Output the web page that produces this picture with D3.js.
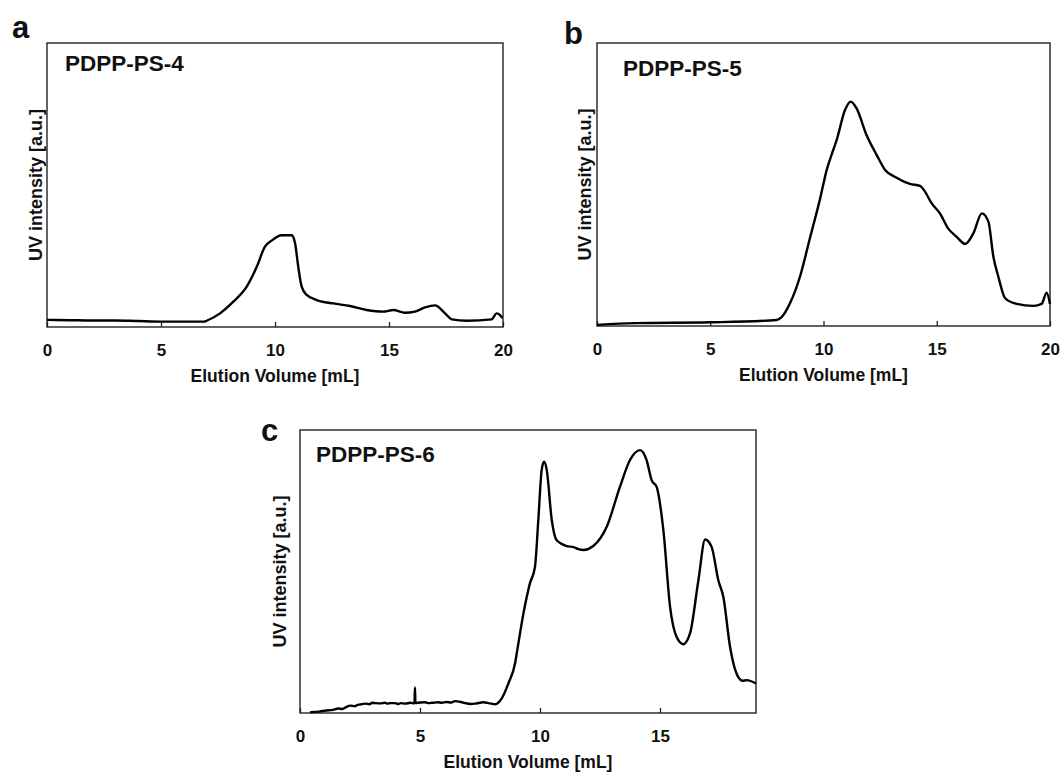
<!DOCTYPE html>
<html>
<head>
<meta charset="utf-8">
<script src="https://cdn.jsdelivr.net/npm/d3@7"></script>
<style>
  body { margin: 0; background: #fff; }
  text { font-family: "Liberation Sans", Arial, sans-serif; font-weight: bold; fill: #111; }
</style>
</head>
<body>
<div id="chart"></div>
<script>
// elution volume [mL] / UV intensity [% of frame height]
const volA = [0, 1, 2, 3, 4, 5, 6, 6.9, 7.0, 7.59, 8.17, 8.76, 9.2, 9.56, 9.85, 10.29, 10.73, 10.88, 11.02, 11.17, 11.39, 11.83, 12.56, 13.29, 14.02, 14.75, 15.19, 15.7, 16.14, 16.58, 17.02, 17.46, 17.75, 18.41, 19.5, 19.72, 19.87, 19.97];
const intA = [2.5, 2.4, 2.3, 2.3, 2.1, 1.9, 1.9, 1.9, 2.2, 4.8, 8.9, 14.2, 21.2, 28.3, 30.4, 32.3, 32.3, 29.5, 21.2, 14.2, 11.3, 9.5, 8.3, 7.4, 6.0, 5.4, 6.0, 5.0, 5.4, 6.9, 7.6, 4.8, 2.7, 2.2, 2.7, 4.8, 4.2, 3.1];

const volB = [0, 1.68, 5, 7.93, 8.15, 8.52, 8.96, 9.4, 9.85, 10.14, 10.4, 10.58, 10.95, 11.2, 11.46, 11.9, 12.35, 12.72, 13.23, 13.82, 14.26, 14.48, 14.77, 15.14, 15.5, 15.87, 16.25, 16.62, 16.99, 17.28, 17.5, 17.72, 18.02, 18.53, 19.27, 19.63, 19.85, 20];
const intB = [0.4, 1.0, 1.3, 2.1, 3.1, 8.0, 17.4, 31.0, 45.0, 55.1, 61.5, 65.7, 76.3, 79.3, 76.9, 67.5, 60.4, 55.1, 52.4, 50.2, 49.5, 47.5, 43.4, 39.8, 34.5, 31.6, 29.0, 32.8, 39.8, 36.9, 24.5, 17.4, 9.8, 7.8, 7.1, 7.8, 11.8, 7.8];

const volC = [0.42, 0.8, 1.1, 1.32, 1.6, 1.75, 1.88, 2.1, 2.29, 2.4, 2.5, 2.71, 2.9, 3.0, 3.13, 3.35, 3.54, 3.65, 3.75, 3.96, 4.1, 4.2, 4.38, 4.6, 4.77, 4.79, 4.81, 5.0, 5.21, 5.35, 5.5, 5.76, 5.9, 6.1, 6.3, 6.46, 6.7, 6.88, 7.1, 7.29, 7.64, 7.9, 8.13, 8.4, 8.68, 8.96, 9.03, 9.31, 9.58, 9.79, 9.93, 10.07, 10.17, 10.28, 10.49, 10.69, 11.11, 11.4, 11.6, 11.81, 12.22, 12.78, 13.33, 13.75, 14.17, 14.44, 14.65, 14.86, 15.14, 15.42, 15.69, 15.97, 16.25, 16.6, 16.88, 17.15, 17.43, 17.64, 17.92, 18.26, 18.45, 18.61, 19.0];
const intC = [0.3, 0.5, 0.9, 1.0, 1.6, 1.4, 1.9, 2.6, 2.4, 2.9, 3.0, 3.3, 3.1, 3.6, 3.5, 3.4, 3.6, 3.3, 3.5, 3.5, 3.2, 3.5, 3.3, 3.6, 3.4, 9.0, 3.5, 3.7, 3.8, 3.5, 3.6, 3.8, 3.6, 3.9, 3.7, 4.2, 3.9, 3.5, 3.2, 3.3, 3.8, 3.4, 3.1, 5.1, 10.4, 17.5, 21.0, 35.2, 45.8, 51.6, 68.2, 85.9, 88.8, 85.9, 68.2, 61.1, 59.0, 58.6, 57.9, 57.6, 59.0, 65.8, 79.9, 89.4, 92.9, 89.4, 82.3, 79.9, 64.6, 37.5, 26.9, 24.3, 28.1, 46.9, 61.3, 58.7, 46.9, 41.0, 23.3, 12.7, 11.4, 11.6, 10.4];

const ticksAB = [0, 5, 10, 15, 20];
const ticksC = [0, 5, 10, 15];
const names = ["PDPP-PS-4", "PDPP-PS-5", "PDPP-PS-6"];
const letters = ["a", "b", "c"];

const width = 1064, height = 772;

const panels = [
  { vol: volA, val: intA, ticks: ticksAB, dom: [0, 20], x0: 47, x1: 503, y0: 43, y1: 327,
    letter: [12, 38], name: [65, 71], yTitleX: 36 },
  { vol: volB, val: intB, ticks: ticksAB, dom: [0, 20], x0: 597, x1: 1050, y0: 43, y1: 326,
    letter: [564, 44], name: [623, 76], yTitleX: 585 },
  { vol: volC, val: intC, ticks: ticksC, dom: [0, 19], x0: 300, x1: 756, y0: 430, y1: 713,
    letter: [261, 441], name: [316, 462], yTitleX: 280 },
];

const svg = d3.select('#chart')
  .append('svg')
  .attr('width', width)
  .attr('height', height);

panels.forEach((p, i) => {
  const x = d3.scaleLinear().domain(p.dom).range([p.x0, p.x1]);
  const y = d3.scaleLinear().domain([0, 100]).range([p.y1, p.y0]);
  const g = svg.append('g');

  // inward ticks + labels
  const ax = g.append('g')
    .attr('transform', `translate(0, ${p.y1})`)
    .call(d3.axisBottom(x).tickValues(p.ticks).tickSize(-5).tickPadding(17).tickFormat(d3.format('d')));
  ax.select('.domain').remove();
  ax.selectAll('line').attr('stroke', '#222').attr('stroke-width', 1.3);
  ax.selectAll('text')
    .style('font-family', '"Liberation Sans", Arial, sans-serif')
    .style('font-weight', 'bold')
    .style('font-size', '17px')
    .attr('fill', '#111');

  // frame
  g.append('rect')
    .attr('x', p.x0)
    .attr('y', p.y0)
    .attr('width', p.x1 - p.x0)
    .attr('height', p.y1 - p.y0)
    .attr('fill', 'none')
    .attr('stroke', '#222')
    .attr('stroke-width', 1.4);

  const line = d3.line()
    .x((d, j) => x(p.vol[j]))
    .y((d) => y(d))
    .curve(d3.curveMonotoneX);

  g.append('path')
    .attr('d', line(p.val))
    .attr('fill', 'none')
    .attr('stroke', '#000')
    .attr('stroke-width', 2.4)
    .attr('stroke-linejoin', 'round');

  g.append('text')
    .attr('x', p.letter[0])
    .attr('y', p.letter[1])
    .style('font-size', '31px')
    .text(letters[i]);

  g.append('text')
    .attr('x', p.name[0])
    .attr('y', p.name[1])
    .style('font-size', '22.5px')
    .text(names[i]);

  g.append('text')
    .attr('text-anchor', 'middle')
    .attr('transform', `translate(${p.yTitleX + 6}, ${(p.y0 + p.y1) / 2}) rotate(-90)`)
    .style('font-size', '18px')
    .text('UV intensity [a.u.]');

  g.append('text')
    .attr('text-anchor', 'middle')
    .attr('x', (p.x0 + p.x1) / 2)
    .attr('y', p.y1 + 55)
    .style('font-size', '17.5px')
    .text('Elution Volume [mL]');
});
</script>
</body>
</html>
